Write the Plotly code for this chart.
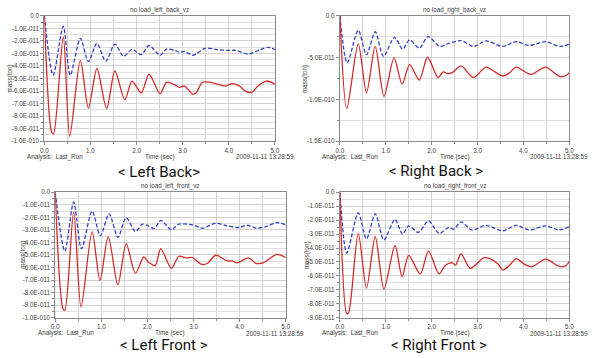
import plotly.graph_objects as go

# ---------------- data (values in units of 1E-011) ----------------
lb_red_t = [0, 0.16, 0.20, 0.41, 0.55, 0.78, 0.955, 1.14, 1.35, 1.53, 1.745, 1.90, 2.10, 2.27, 2.51, 2.65, 2.83, 2.93, 3.04, 3.22, 3.29, 3.43, 3.61, 3.75, 3.93, 4.07, 4.22, 4.36, 4.5, 4.64, 4.82, 5.0]
lb_red_v = [0, -9.3, -9.4, -1.67, -9.6, -3.55, -7.35, -4.2, -7.4, -4.4, -6.7, -5.2, -6.15, -4.66, -6.2, -5.3, -5.5, -5.7, -5.6, -6.25, -6.15, -5.3, -5.3, -5.45, -5.6, -5.4, -5.57, -6.0, -6.1, -5.57, -5.2, -5.45]
lb_blue_t = [0, 0.19, 0.41, 0.56, 0.78, 0.955, 1.14, 1.33, 1.53, 1.72, 1.90, 2.10, 2.27, 2.51, 2.65, 2.83, 2.93, 3.04, 3.22, 3.5, 3.75, 3.97, 4.15, 4.43, 4.68, 4.86, 5.0]
lb_blue_v = [0, -4.74, -0.83, -4.74, -1.8, -3.65, -2.2, -3.62, -2.27, -3.23, -2.68, -3.1, -2.37, -3.15, -2.66, -2.76, -2.9, -2.84, -3.15, -2.58, -2.7, -2.76, -2.76, -3.05, -2.7, -2.52, -2.7]

rb_red_t = [0, 0.15, 0.40, 0.58, 0.77, 0.96, 1.18, 1.355, 1.52, 1.73, 1.91, 2.14, 2.25, 2.34, 2.45, 2.64, 2.91, 3.18, 3.37, 3.55, 3.70, 3.84, 4.16, 4.48, 4.77, 4.91, 5.0]
rb_red_v = [0, -11.1, -3.36, -9.2, -3.67, -9.65, -5.04, -8.17, -5.83, -7.7, -4.96, -7.38, -6.72, -6.9, -6.8, -6.0, -7.38, -6.13, -6.68, -7.2, -6.8, -6.13, -7.0, -6.13, -7.2, -7.2, -6.8]
rb_blue_t = [0, 0.16, 0.40, 0.58, 0.77, 0.95, 1.19, 1.365, 1.52, 1.73, 1.92, 2.18, 2.37, 2.64, 2.91, 3.18, 3.55, 3.84, 4.12, 4.48, 4.80, 5.0]
rb_blue_v = [0, -5.63, -1.72, -4.65, -1.91, -4.84, -2.58, -3.99, -2.89, -3.87, -2.5, -3.67, -3.3, -2.97, -3.67, -3.01, -3.67, -3.09, -3.55, -3.09, -3.67, -3.4]

lf_red_t = [0, 0.17, 0.21, 0.40, 0.56, 0.80, 0.97, 1.15, 1.36, 1.54, 1.74, 1.92, 2.02, 2.17, 2.29, 2.52, 2.68, 2.84, 2.98, 3.16, 3.3, 3.48, 3.73, 3.84, 3.94, 4.19, 4.36, 4.52, 4.81, 5.0]
lf_red_v = [0, -9.3, -9.4, -1.56, -9.15, -3.13, -7.03, -3.54, -7.37, -4.1, -6.46, -5.16, -5.55, -5.85, -4.5, -6.07, -5.1, -5.23, -5.2, -5.73, -5.68, -5.02, -5.47, -5.47, -5.63, -5.23, -5.68, -5.6, -4.95, -5.2]
lf_blue_t = [0, 0.21, 0.40, 0.57, 0.80, 0.98, 1.17, 1.36, 1.54, 1.74, 1.89, 2.02, 2.15, 2.29, 2.52, 2.68, 2.98, 3.2, 3.48, 3.73, 3.98, 4.16, 4.37, 4.55, 4.8, 5.0]
lf_blue_v = [0, -4.69, -0.78, -4.5, -1.51, -3.46, -1.72, -3.59, -2.03, -3.13, -2.55, -2.68, -2.89, -2.24, -2.99, -2.55, -2.6, -2.86, -2.47, -2.68, -2.81, -2.63, -2.86, -2.76, -2.42, -2.6]

rf_red_t = [0, 0.15, 0.19, 0.40, 0.58, 0.77, 0.96, 1.2, 1.355, 1.5, 1.75, 1.93, 2.16, 2.3, 2.45, 2.52, 2.64, 2.84, 3.13, 3.27, 3.45, 3.55, 3.7, 3.84, 4.02, 4.18, 4.48, 4.77, 4.91, 5.0]
rf_red_v = [0, -8.7, -8.65, -2.95, -6.87, -3.19, -6.94, -3.82, -6.05, -4.52, -5.86, -4.22, -5.86, -5.23, -5.06, -5.23, -4.41, -5.46, -4.71, -4.76, -5.16, -5.58, -5.23, -4.76, -5.16, -5.35, -4.8, -5.3, -5.3, -4.95]
rf_blue_t = [0, 0.15, 0.40, 0.58, 0.77, 0.96, 1.2, 1.365, 1.5, 1.71, 1.93, 2.16, 2.37, 2.48, 2.64, 2.88, 3.18, 3.55, 3.84, 4.12, 4.48, 4.77, 5.0]
rf_blue_v = [0, -4.36, -1.48, -3.35, -1.55, -3.42, -1.95, -3.0, -2.41, -2.88, -2.06, -2.95, -2.53, -2.65, -2.13, -2.72, -2.37, -2.77, -2.37, -2.7, -2.41, -2.7, -2.48]

x_tick_vals = [0, 1, 2, 3, 4, 5]
x_tick_text = ["0.0", "1.0", "2.0", "3.0", "4.0", "5.0"]
y10_vals = [0, -1, -2, -3, -4, -5, -6, -7, -8, -9, -10]
y10_text = ["0.0", "-1.0E-011", "-2.0E-011", "-3.0E-011", "-4.0E-011", "-5.0E-011",
            "-6.0E-011", "-7.0E-011", "-8.0E-011", "-9.0E-011", "-1.0E-010"]
y15_vals = [0, -5, -10, -15]
y15_text = ["0.0", "-5.0E-011", "-1.0E-010", "-1.5E-010"]
y9_vals = y10_vals[:10]
y9_text = y10_text[:10]

titles = ["no load_left_back_vz", "no load_right_back_vz", "no load_left_front_vz", "no load_right_front_vz"]
captions = ["< Left Back>", "< Right Back >", "< Left Front >", "< Right Front >"]
y_label = "mass(ton)"
analysis_text = "Analysis:  Last_Run"
x_label = "Time (sec)"
date_text = "2009-11-11 13:28:59"

W, H = 600, 358
RED = "#d42a2a"
BLUE = "#3340c4"

# panel geometry in pixels: left, right, top, bottom
panels = [
    dict(l=41, r=275, t=12, b=140, red=(lb_red_t, lb_red_v), blue=(lb_blue_t, lb_blue_v),
         yr=[-10, 0], yv=y10_vals, yt=y10_text, minor=0.5, cap_x=157, cap_y=171, ylab_x=6),
    dict(l=341, r=574, t=12, b=140, red=(rb_red_t, rb_red_v), blue=(rb_blue_t, rb_blue_v),
         yr=[-15, 0], yv=y15_vals, yt=y15_text, minor=2.5, cap_x=439, cap_y=170, ylab_x=305),
    dict(l=52, r=286, t=192, b=320, red=(lf_red_t, lf_red_v), blue=(lf_blue_t, lf_blue_v),
         yr=[-10, 0], yv=y10_vals, yt=y10_text, minor=0.5, cap_x=162, cap_y=348, ylab_x=19),
    dict(l=341, r=574, t=192, b=320, red=(rf_red_t, rf_red_v), blue=(rf_blue_t, rf_blue_v),
         yr=[-9, 0], yv=y9_vals, yt=y9_text, minor=0.5, cap_x=442, cap_y=348, ylab_x=308),
]

def px(x):
    return x / W

def py(y):
    return 1 - y / H

fig = go.Figure()
small = dict(family="Liberation Sans Narrow, Liberation Sans", size=6.3, color="#404040")
annotations = []

for i, p in enumerate(panels):
    n = "" if i == 0 else str(i + 1)
    xa, ya = "x" + n, "y" + n
    fig.add_trace(go.Scatter(x=p["blue"][0], y=p["blue"][1], mode="lines", xaxis=xa, yaxis=ya,
                             line=dict(color=BLUE, width=1.3, dash="4px,2px", shape="spline", smoothing=0.8),
                             showlegend=False, hoverinfo="skip"))
    fig.add_trace(go.Scatter(x=p["red"][0], y=p["red"][1], mode="lines", xaxis=xa, yaxis=ya,
                             line=dict(color=RED, width=1.3, shape="spline", smoothing=0.8),
                             showlegend=False, hoverinfo="skip"))
    common = dict(showline=True, mirror=True, linecolor="#8a8a8a", linewidth=1,
                  gridcolor="#d2d2d2", gridwidth=1, zeroline=False, ticks="outside",
                  ticklen=3, tickcolor="#8a8a8a", tickfont=small, fixedrange=True)
    fig.layout["xaxis" + n] = dict(
        domain=[px(p["l"]), px(p["r"])], anchor=ya, range=[0, 5],
        tickmode="array", tickvals=x_tick_vals, ticktext=x_tick_text,
        minor=dict(tickmode="linear", tick0=0, dtick=0.5, showgrid=True, gridcolor="#d2d2d2",
                   ticks="outside", ticklen=2, tickcolor="#8a8a8a"),
        **common)
    fig.layout["yaxis" + n] = dict(
        domain=[py(p["b"]), py(p["t"])], anchor=xa, range=p["yr"],
        tickmode="array", tickvals=p["yv"], ticktext=p["yt"],
        minor=dict(tickmode="linear", tick0=0, dtick=p["minor"], showgrid=True, gridcolor="#dedede",
                   ticks="outside", ticklen=2, tickcolor="#8a8a8a"),
        **common)
    cx = (p["l"] + p["r"]) / 2
    annotations += [
        dict(text=titles[i], x=px(cx), y=py(p["t"] - 6), xanchor="center", yanchor="middle", font=small),
        dict(text=analysis_text, x=px(p["l"] - 20), y=py(p["b"] + 16), xanchor="left", yanchor="middle", font=small),
        dict(text=x_label, x=px(cx), y=py(p["b"] + 16), xanchor="center", yanchor="middle", font=small),
        dict(text=date_text, x=px(p["r"] + 21), y=py(p["b"] + 16), xanchor="right", yanchor="middle", font=small),
        dict(text=y_label, x=px(p["ylab_x"]), y=py((p["t"] + p["b"]) / 2), xanchor="center", yanchor="middle",
             textangle=-90, font=small),
        dict(text=captions[i], x=px(p["cap_x"]), y=py(p["cap_y"]), xanchor="center", yanchor="middle",
             font=dict(family="Roboto", size=15, color="#111111")),
    ]

for a in annotations:
    a.update(xref="paper", yref="paper", showarrow=False)

fig.update_layout(width=W, height=H, margin=dict(l=0, r=0, t=0, b=0),
                  paper_bgcolor="white", plot_bgcolor="white", annotations=annotations)

fig.write_html("out.html", config={"displayModeBar": False},
               post_script="document.body.style.margin='0';document.body.style.overflow='hidden';")
